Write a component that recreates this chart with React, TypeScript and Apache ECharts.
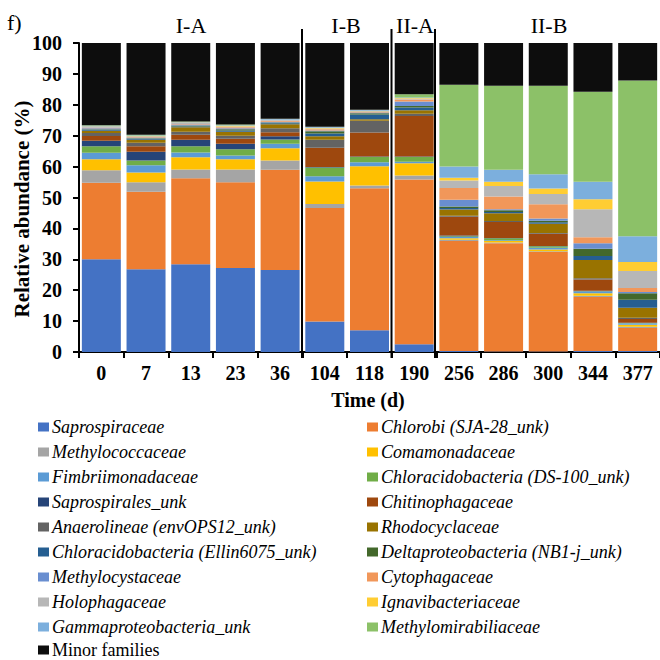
import React, { useEffect, useRef } from "react";
import * as echarts from "echarts";

const categories = ["0", "7", "13", "23", "36", "104", "118", "190", "256", "286", "300", "344", "377"];

const saprospiraceae = [30.0, 26.8, 28.4, 27.2, 26.5, 9.9, 7.0, 2.5, 0.3, 0.2, 0.2, 0.3, 0.3];
const chlorobi = [24.8, 25.1, 27.8, 27.7, 32.5, 36.7, 46.0, 53.3, 35.6, 35.0, 32.2, 17.5, 7.5];
const methylococcaceae = [4.0, 3.0, 2.9, 4.2, 3.0, 1.3, 0.9, 1.3, 0.4, 0.2, 0.2, 0.4, 0.4];
const comamonadaceae = [3.6, 3.2, 3.9, 3.3, 3.9, 7.3, 6.2, 4.0, 0.5, 0.5, 0.6, 0.8, 0.6];
const fimbriimonadaceae = [2.1, 2.3, 1.6, 1.2, 1.5, 1.7, 1.3, 0.5, 0.4, 0.3, 0.5, 0.6, 0.5];
const ds100 = [2.1, 1.6, 2.0, 2.0, 1.4, 2.8, 1.7, 1.5, 0.3, 0.6, 0.5, 0.1, 0.1];
const saprospiralesUnk = [1.8, 2.8, 2.1, 1.8, 1.0, 0.2, 0.2, 0.2, 0.2, 0.1, 0.1, 0.1, 0.1];
const chitinophagaceae = [1.5, 1.8, 1.6, 1.6, 1.3, 6.2, 7.7, 13.1, 6.1, 5.2, 4.0, 3.7, 1.2];
const anaerolineae = [1.0, 1.1, 1.0, 1.0, 1.3, 2.6, 3.8, 0.7, 0.3, 0.3, 0.2, 0.4, 0.4];
const rhodocyclaceae = [0.7, 1.0, 1.4, 1.3, 1.3, 1.1, 0.5, 1.1, 2.0, 2.5, 3.0, 5.9, 3.2];
const ellin6075 = [0.3, 0.3, 0.3, 0.4, 0.3, 0.9, 1.6, 0.9, 0.5, 0.4, 0.5, 1.3, 2.6];
const nb1j = [0.2, 0.2, 0.3, 0.4, 0.3, 0.7, 0.4, 0.5, 0.5, 0.6, 0.5, 2.3, 2.1];
const methylocystaceae = [0.3, 0.2, 0.3, 0.3, 0.2, 0.3, 0.2, 1.5, 2.2, 0.3, 0.7, 1.8, 0.4];
const cytophagaceae = [0.2, 0.2, 0.2, 0.3, 0.3, 0.4, 0.2, 0.6, 3.8, 4.1, 4.6, 1.9, 1.3];
const holophagaceae = [0.2, 0.2, 0.3, 0.3, 0.3, 0.2, 0.2, 0.3, 2.4, 3.4, 3.3, 9.1, 5.5];
const ignavibacteriaceae = [0.2, 0.1, 0.2, 0.2, 0.1, 0.3, 0.2, 0.2, 0.9, 1.4, 1.8, 3.2, 2.9];
const gammaproteobacteria = [0.2, 0.2, 0.1, 0.2, 0.2, 0.2, 0.2, 0.2, 3.6, 3.9, 4.6, 5.7, 8.4];
const methylomirabiliaceae = [0.2, 0.2, 0.2, 0.2, 0.1, 0.1, 0.1, 1.0, 26.5, 27.2, 28.7, 29.1, 50.4];
const minorFamilies = [26.6, 29.7, 25.4, 26.4, 24.5, 27.1, 21.6, 16.6, 13.5, 13.8, 13.8, 15.8, 12.1];

const seriesNames = [
  "Saprospiraceae",
  "Chlorobi (SJA-28_unk)",
  "Methylococcaceae",
  "Comamonadaceae",
  "Fimbriimonadaceae",
  "Chloracidobacteria (DS-100_unk)",
  "Saprospirales_unk",
  "Chitinophagaceae",
  "Anaerolineae (envOPS12_unk)",
  "Rhodocyclaceae",
  "Chloracidobacteria (Ellin6075_unk)",
  "Deltaproteobacteria (NB1-j_unk)",
  "Methylocystaceae",
  "Cytophagaceae",
  "Holophagaceae",
  "Ignavibacteriaceae",
  "Gammaproteobacteria_unk",
  "Methylomirabiliaceae",
  "Minor families",
];

const seriesValues = [
  saprospiraceae, chlorobi, methylococcaceae, comamonadaceae, fimbriimonadaceae, ds100,
  saprospiralesUnk, chitinophagaceae, anaerolineae, rhodocyclaceae, ellin6075, nb1j,
  methylocystaceae, cytophagaceae, holophagaceae, ignavibacteriaceae, gammaproteobacteria,
  methylomirabiliaceae, minorFamilies,
];

const seriesColors = [
  "#4472C4", "#ED7D31", "#A5A5A5", "#FFC000", "#5B9BD5", "#70AD47", "#264478", "#9E480E",
  "#636363", "#997300", "#255E91", "#43682B", "#698ED0", "#F1975A", "#B7B7B7", "#FFCD33",
  "#7CAFDD", "#8CC168", "#0D0D0D",
];

const yTicks = { min: 0, max: 100, interval: 10 };

const groupLabels = [
  { text: "I-A", x: 191 },
  { text: "I-B", x: 346 },
  { text: "II-A", x: 415 },
  { text: "II-B", x: 549 },
];
const dividerX = [302, 391.5, 435];

const FONT = "Liberation Serif";

export default function App() {
  const ref = useRef<HTMLDivElement>(null);

  useEffect(() => {
    if (!ref.current) return;
    const chart = echarts.init(ref.current, null, { renderer: "svg" });

    const minorName = "Minor families";
    const leftNames = seriesNames.filter((n, i) => i % 2 === 0 && n !== minorName);
    const rightNames = seriesNames.filter((_, i) => i % 2 === 1);

    const legendBase = {
      orient: "vertical",
      top: 418,
      height: 240,
      itemWidth: 11,
      itemHeight: 9,
      itemGap: 7,
      icon: "rect",
      padding: 0,
      textStyle: {
        fontFamily: FONT,
        fontSize: 18,
        fontStyle: "italic",
        color: "#000",
        padding: [0, 0, 0, -2],
      },
      selectedMode: false,
    };

    const graphic: any[] = [
      {
        type: "text",
        x: 7,
        y: 22,
        style: { text: "f)", fontFamily: FONT, fontSize: 22, fill: "#000", align: "left", verticalAlign: "middle" },
      },
      ...groupLabels.map((g) => ({
        type: "text",
        x: g.x,
        y: 25,
        style: { text: g.text, fontFamily: FONT, fontSize: 22, fill: "#000", align: "center", verticalAlign: "middle" },
      })),
      ...dividerX.map((x) => ({
        type: "line",
        shape: { x1: x, y1: 29, x2: x, y2: 358 },
        style: { stroke: "#000", lineWidth: 2 },
        z: 100,
      })),
      {
        type: "text",
        x: 22,
        y: 209,
        rotation: Math.PI / 2,
        style: {
          text: "Relative abundance (%)",
          fontFamily: FONT,
          fontSize: 21,
          fontWeight: "bold",
          fill: "#000",
          align: "center",
          verticalAlign: "middle",
        },
      },
      {
        type: "text",
        x: 368,
        y: 400,
        style: {
          text: "Time (d)",
          fontFamily: FONT,
          fontSize: 20,
          fontWeight: "bold",
          fill: "#000",
          align: "center",
          verticalAlign: "middle",
        },
      },
    ];

    chart.setOption({
      animation: false,
      backgroundColor: "#fff",
      grid: { left: 79, right: 0, top: 43, bottom: 308, containLabel: false },
      legend: [
        { ...legendBase, left: 38, data: leftNames },
        { ...legendBase, left: 367, data: rightNames },
        {
          ...legendBase,
          left: 38,
          top: 641,
          height: 15,
          data: [minorName],
          textStyle: { ...legendBase.textStyle, fontStyle: "normal", lineHeight: 14 },
        },
      ],
      xAxis: {
        type: "category",
        data: categories,
        axisLine: { lineStyle: { color: "#000", width: 2 } },
        axisTick: { show: true, length: 6, lineStyle: { color: "#000", width: 2 } },
        axisLabel: { color: "#000", fontFamily: FONT, fontSize: 20, fontWeight: "bold", margin: 11, interval: 0 },
      },
      yAxis: {
        type: "value",
        min: yTicks.min,
        max: yTicks.max,
        interval: yTicks.interval,
        axisLine: { show: true, lineStyle: { color: "#000", width: 2 } },
        axisTick: { show: true, length: 6, lineStyle: { color: "#000", width: 2 } },
        axisLabel: { color: "#000", fontFamily: FONT, fontSize: 20, fontWeight: "bold", margin: 17 },
        splitLine: { show: false },
      },
      series: seriesNames.map((name, i) => ({
        name,
        type: "bar",
        stack: "total",
        barWidth: 39,
        data: seriesValues[i],
        itemStyle: { color: seriesColors[i] },
        emphasis: { disabled: true },
      })),
      graphic,
    });

    return () => chart.dispose();
  }, []);

  return (
    <div
      ref={ref}
      style={{ position: "absolute", left: 0, top: 0, width: 660, height: 660 }}
    />
  );
}
